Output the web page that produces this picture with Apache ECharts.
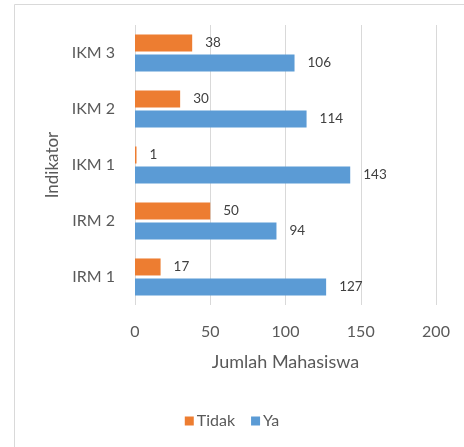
<!DOCTYPE html>
<html>
<head>
<meta charset="UTF-8">
<title>Indikator</title>
<script src="https://cdn.jsdelivr.net/npm/echarts@6/dist/echarts.min.js"></script>
<style>
    html, body { margin: 0; padding: 0; background: #fff; }
    #main { width: 464px; height: 447px; }
</style>
</head>
<body>
<div id="main"></div>
<script>
    var categories = ['IRM 1', 'IRM 2', 'IKM 1', 'IKM 2', 'IKM 3'];
    var tidak = [17, 50, 1, 30, 38];
    var ya = [127, 94, 143, 114, 106];

    var myChart = echarts.init(document.getElementById('main'));
    var font = 'Lato';

    var option = {
        animation: false,
        textStyle: { fontFamily: font },
        graphic: [{
            type: 'rect',
            left: 12, top: 2,
            shape: { width: 470, height: 470 },
            style: { fill: 'none', stroke: '#d9d9d9', lineWidth: 1 }
        }],
        legend: {
            bottom: 13,
            left: 'center',
            itemWidth: 9,
            itemHeight: 9,
            itemGap: 16,
            icon: 'rect',
            textStyle: { fontSize: 16, color: '#595959', fontFamily: font, padding: [0, 0, 0, -2] },
            data: ['Tidak', 'Ya']
        },
        grid: { left: 135, right: 28, top: 25, bottom: 142 },
        xAxis: {
            type: 'value',
            min: 0, max: 200, interval: 50,
            name: 'Jumlah Mahasiswa',
            nameLocation: 'middle',
            nameGap: 48,
            nameTextStyle: { fontSize: 18, color: '#595959' },
            axisLine: { show: false },
            axisTick: { show: false },
            axisLabel: { fontSize: 16, color: '#595959', margin: 19 },
            splitLine: { lineStyle: { color: '#d9d9d9' } }
        },
        yAxis: {
            type: 'category',
            data: categories,
            name: 'Indikator',
            nameLocation: 'middle',
            nameGap: 74,
            nameTextStyle: { fontSize: 17, color: '#595959' },
            axisLine: { show: false },
            axisTick: { show: false },
            axisLabel: { fontSize: 16, color: '#595959', margin: 20 }
        },
        series: [
            {
                name: 'Tidak',
                type: 'bar',
                data: tidak,
                barWidth: 17,
                barGap: '18%',
                itemStyle: { color: '#ED7D31' },
                label: { show: true, position: 'right', distance: 13, fontSize: 13.5, color: '#404040' }
            },
            {
                name: 'Ya',
                type: 'bar',
                data: ya,
                barWidth: 17,
                barGap: '18%',
                itemStyle: { color: '#5B9BD5' },
                label: { show: true, position: 'right', distance: 13, fontSize: 13.5, color: '#404040' }
            }
        ]
    };

    myChart.setOption(option);
</script>
</body>
</html>
